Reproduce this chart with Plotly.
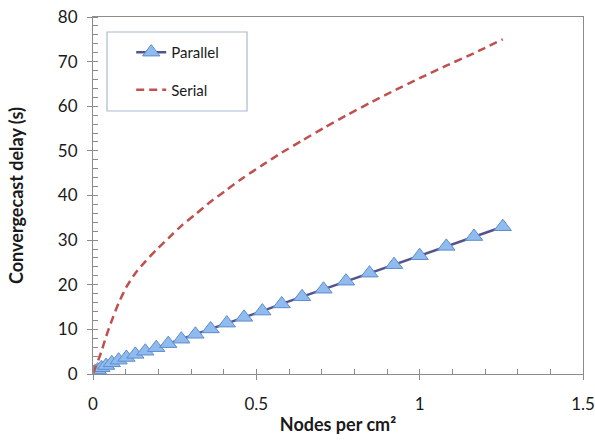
import plotly.graph_objects as go

# Data
parallel_x = [0.0016, 0.0064, 0.0144, 0.0256, 0.04, 0.0576, 0.0784, 0.1024, 0.1296, 0.16,
              0.1936, 0.2304, 0.2704, 0.3136, 0.36, 0.4096, 0.4624, 0.5184, 0.5776, 0.64,
              0.7056, 0.7744, 0.8464, 0.9216, 1.0, 1.0816, 1.1664, 1.2544]
parallel_y = [0.2, 0.5, 0.9, 1.4, 1.9, 2.5, 3.1, 3.7, 4.4, 5.1,
              5.9, 6.8, 7.8, 8.9, 10.1, 11.4, 12.7, 14.1, 15.7, 17.3,
              19.0, 20.8, 22.6, 24.5, 26.5, 28.6, 30.8, 33.0]

serial_x = [0.0016, 0.0256, 0.04, 0.0576, 0.0784, 0.1024, 0.1296, 0.16, 0.1936, 0.2304,
            0.2704, 0.3136, 0.36, 0.4096, 0.4624, 0.5184, 0.5776, 0.64, 0.7056, 0.7744,
            0.8464, 0.9216, 1.0, 1.0816, 1.1664, 1.2544]
serial_y = [0.3, 5.0, 8.4, 12.0, 15.9, 19.5, 22.6, 25.2, 27.8, 30.4,
            33.2, 35.8, 38.6, 41.3, 44.1, 46.8, 49.6, 52.3, 55.1, 57.9,
            60.7, 63.5, 66.3, 69.1, 71.9, 75.0]

x_ticks = [0, 0.5, 1, 1.5]
x_tick_labels = ["0", "0.5", "1", "1.5"]
y_ticks = [0, 10, 20, 30, 40, 50, 60, 70, 80]

FONT = "Lato, Carlito, 'Open Sans', sans-serif"

fig = go.Figure()
fig.add_trace(go.Scatter(
    x=parallel_x, y=parallel_y, name="Parallel", mode="lines+markers",
    line=dict(color="#54548c", width=2.5),
    marker=dict(symbol="triangle-up", size=15, color="#8fbbef",
                line=dict(color="#5f8ccb", width=1)),
    legendgroup="a",
))
fig.add_trace(go.Scatter(
    x=serial_x, y=serial_y, name="Serial", mode="lines",
    line=dict(color="#c0504d", width=2.5, dash="8px,5px", shape="spline", smoothing=0.6),
    legendgroup="b",
))

fig.update_layout(
    width=595, height=443,
    margin=dict(l=93, r=12, t=17, b=69),
    paper_bgcolor="white", plot_bgcolor="white",
    font=dict(family=FONT, size=17, color="#1a1a1a"),
    showlegend=True,
    legend=dict(x=0.078, y=0.947, xanchor="left", yanchor="top",
                bgcolor="rgba(0,0,0,0)", borderwidth=0,
                font=dict(size=15, color="#1a1a1a"),
                traceorder="grouped", tracegroupgap=15),
    shapes=[dict(type="rect", xref="paper", yref="paper",
                 x0=(107 - 93) / 490, x1=(247 - 93) / 490,
                 y0=(374 - 111) / 357, y1=(374 - 32) / 357,
                 line=dict(color="#a9bad3", width=1.2), fillcolor="white", layer="below")],
)

fig.update_xaxes(
    range=[0, 1.5], tickvals=x_ticks, ticktext=x_tick_labels,
    showgrid=False, zeroline=False, automargin=False,
    showline=True, linecolor="#8c8c8c", linewidth=1.2, mirror=True,
    ticks="outside", ticklen=5, tickcolor="#8c8c8c",
    ticklabelstandoff=9,
    minor=dict(dtick=0.1, ticks="inside", ticklen=5, tickcolor="#8c8c8c"),
    title=dict(text="<b>Nodes per cm²</b>", font=dict(size=18, family=FONT), standoff=5),
)
fig.update_yaxes(
    range=[0, 80], tickvals=y_ticks,
    showgrid=False, zeroline=False, automargin=False,
    showline=True, linecolor="#8c8c8c", linewidth=1.2, mirror=True,
    ticks="outside", ticklen=5, tickcolor="#8c8c8c",
    ticklabelstandoff=6,
    minor=dict(dtick=2, ticks="inside", ticklen=5, tickcolor="#8c8c8c"),
    title=dict(text="<b>Convergecast delay (s)</b>", font=dict(size=18, family=FONT), standoff=29),
)

# remove the browser's default 8px body margin so the figure fills the window
fig.write_html("out.html", config={"displayModeBar": False},
               post_script="document.body.style.margin='0';")
